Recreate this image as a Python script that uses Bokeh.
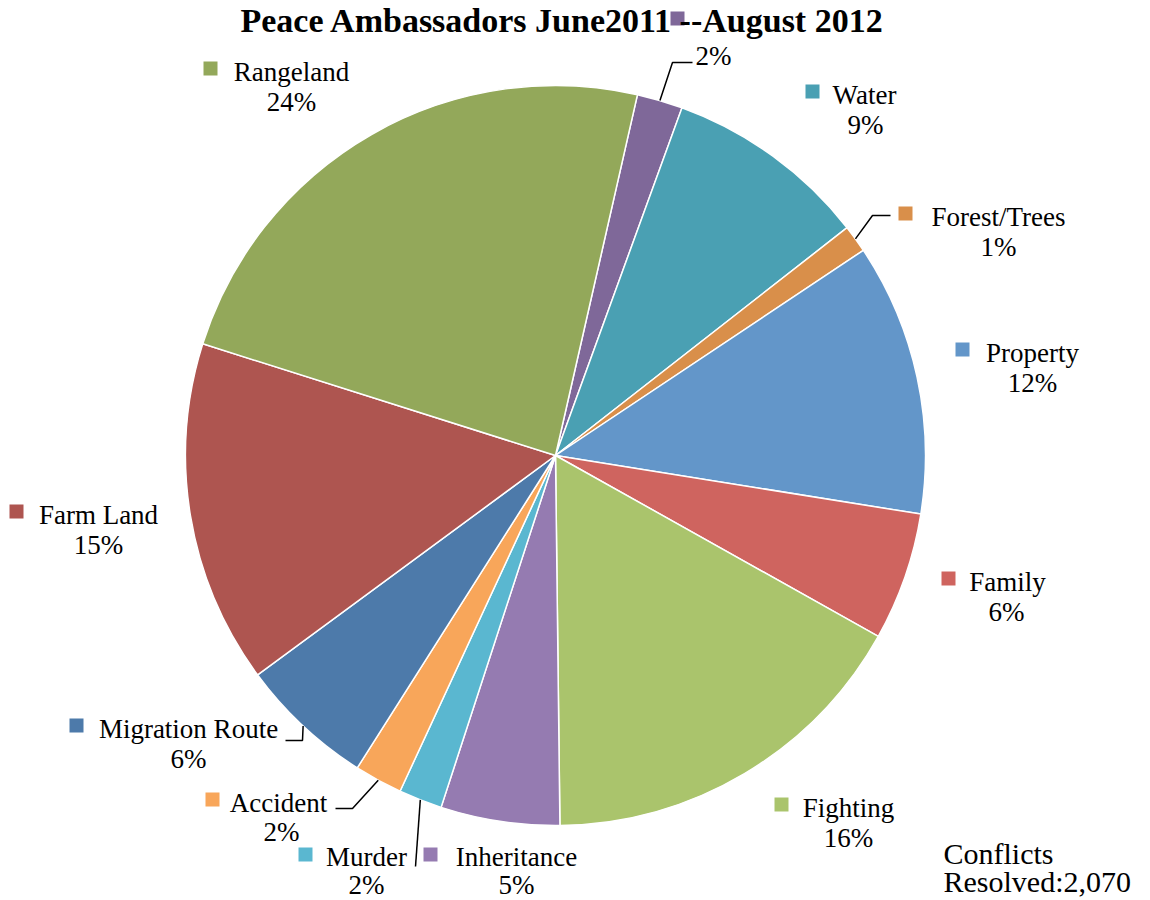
import math
from bokeh.plotting import figure
from bokeh.models import Range1d, ColumnDataSource
from bokeh.core.properties import value
from bokeh.embed import file_html
from bokeh.resources import INLINE

# ---- data (clockwise order, starting after Rangeland) ----
categories = ["", "Water", "Forest/Trees", "Property", "Family", "Fighting",
              "Inheritance", "Murder", "Accident", "Migration Route",
              "Farm Land", "Rangeland"]
shares = [2.0, 8.9, 1.2, 11.9, 5.6, 16.7, 5.2, 1.9, 2.1, 5.9, 15.0, 23.7]
pct_labels = ["2%", "9%", "1%", "12%", "6%", "16%", "5%", "2%", "2%", "6%", "15%", "24%"]
colors = ["#7F6899", "#4AA0B3", "#D98F4A", "#6396C9", "#CF645F", "#AAC46C",
          "#957BB1", "#5AB7D0", "#F8A65A", "#4D7AAA", "#AE5550", "#93A85A"]
title_text = "Peace Ambassadors June2011 --August 2012"
note_lines = ["Conflicts", "Resolved:2,070"]

# ---- layout (page pixel coordinates) ----
W, H = 1150, 900
def X(px): return px
def Y(py): return H - py

cx, cy, R = 555, 455, 370
start_deg = 77.2

# label layout: (square_x, square_y, name_center_x, name_y, pct_center_x, pct_y)
label_pos = [
    (677, 18, None, None, 713, 55),
    (812, 91, 864, 94, 865, 124),
    (905, 213, 998, 216, 998, 246),
    (962, 349, 1032, 352, 1032, 382),
    (948, 578, 1007, 581, 1006, 611),
    (781, 804, 848, 807, 848, 837),
    (430, 854, 516, 856, 516, 884),
    (305, 854, 366, 856, 366, 884),
    (212, 799, 278, 802, 281, 831),
    (76, 725, 188, 728, 188, 758),
    (16, 511, 98, 514, 98, 544),
    (210, 68, 291, 71, 291, 101),
]
# leader elbows (page coords) for small slices
leaders = {
    0: [(672, 62), (692, 62)],
    2: [(872, 215), (890, 215)],
    7: [(415, 866)],
    8: [(352, 808), (335, 808)],
    9: [(302, 740), (285, 740)],
}

p = figure(width=W, height=H, output_backend="svg", toolbar_location=None,
           x_range=Range1d(0, W), y_range=Range1d(0, H), min_border=0)
p.axis.visible = False
p.grid.visible = False
p.outline_line_color = None
p.background_fill_color = "white"

total = sum(shares)
starts, ends, mids = [], [], []
a = math.radians(start_deg)
for s in shares:
    d = s / total * 2 * math.pi
    starts.append(a)
    ends.append(a - d)
    mids.append(a - d / 2)
    a -= d

src = ColumnDataSource(dict(start=starts, end=ends, color=colors))
p.wedge(x=X(cx), y=Y(cy), radius=R, start_angle="start", end_angle="end",
        direction="clock", fill_color="color", line_color="white",
        line_width=1.5, source=src)

# leader lines
for i, pts in leaders.items():
    m = mids[i]
    xs = [X(cx) + R * math.cos(m)] + [X(px) for px, _ in pts]
    ys = [Y(cy) + R * math.sin(m)] + [Y(py) for _, py in pts]
    p.line(xs, ys, line_color="black", line_width=1.5)

font = value("Liberation Serif")
sq_x, sq_y, nm_x, nm_y, nm_t, pc_x, pc_y, pc_t = [], [], [], [], [], [], [], []
for i, (sx, sy, nx, ny, px_, py_) in enumerate(label_pos):
    sq_x.append(X(sx)); sq_y.append(Y(sy))
    if nx is not None and categories[i]:
        nm_x.append(X(nx)); nm_y.append(Y(ny)); nm_t.append(categories[i])
    pc_x.append(X(px_)); pc_y.append(Y(py_)); pc_t.append(pct_labels[i])

p.rect(x=sq_x, y=sq_y, width=14, height=14, fill_color=colors, line_color=None)
p.text(x=nm_x, y=nm_y, text=nm_t, text_font=font, text_font_size="27px",
       text_align="center", text_baseline="middle", text_color="black")
p.text(x=pc_x, y=pc_y, text=pc_t, text_font=font, text_font_size="27px",
       text_align="center", text_baseline="middle", text_color="black")

# title (drawn over the purple legend square, as in reference)
p.text(x=[X(562)], y=[Y(20)], text=[title_text], text_font=font,
       text_font_size="34px", text_font_style="bold", text_align="center",
       text_baseline="middle", text_color="black")

# note
p.text(x=[X(943), X(943)], y=[Y(853), Y(881)], text=note_lines, text_font=font,
       text_font_size="30px", text_align="left", text_baseline="middle",
       text_color="black")

open("out.html", "w").write(file_html(p, INLINE))
